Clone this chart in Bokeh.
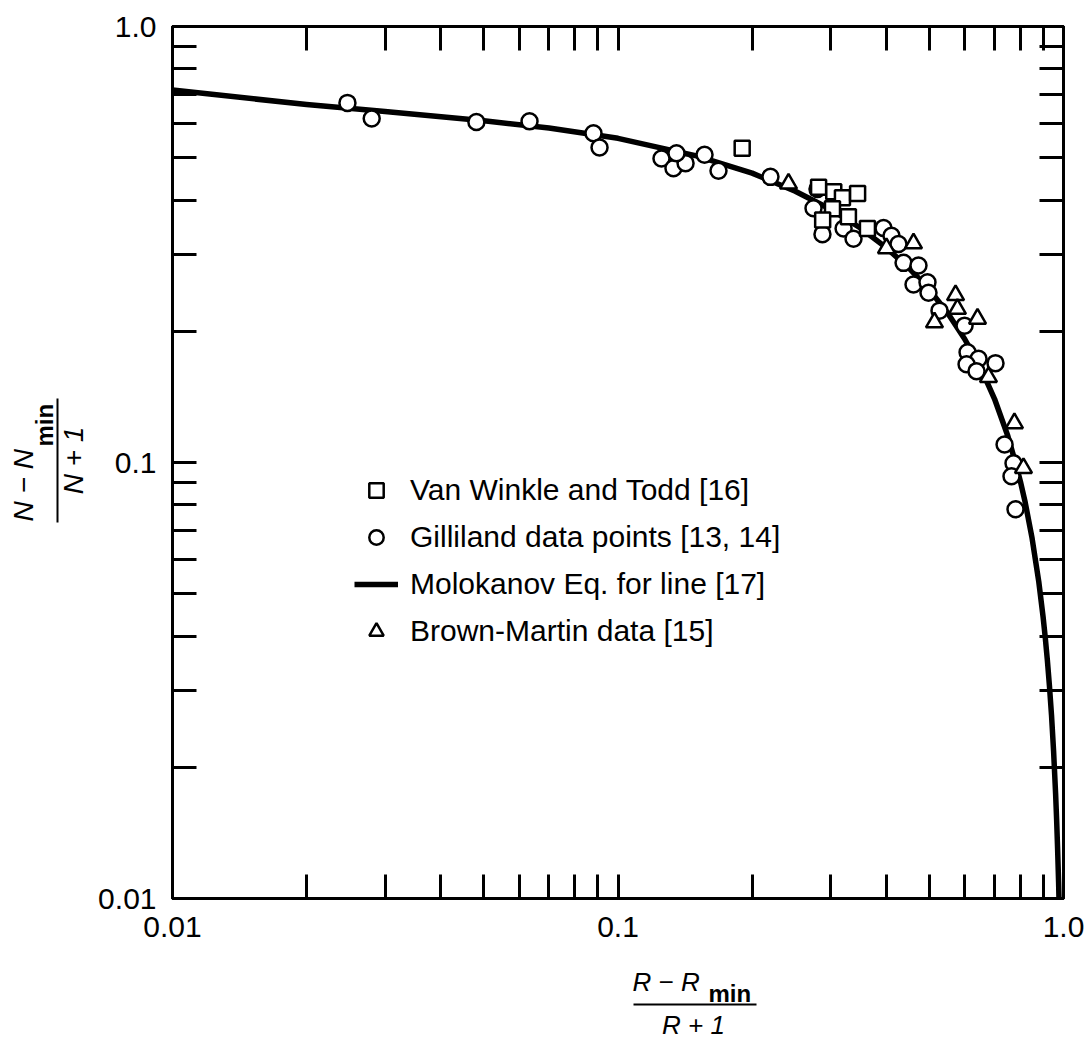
import math
from bokeh.plotting import figure
from bokeh.layouts import row, column
from bokeh.models import (Range1d, LogAxis, FixedTicker, CustomJSTickFormatter,
                          Legend, LegendItem, Label, Arrow)
from bokeh.embed import file_html
from bokeh.resources import INLINE

# ---------------- data ----------------
# Van Winkle and Todd [16]  (squares)
vw_x = [0.190, 0.282, 0.305, 0.319, 0.345, 0.303, 0.288, 0.329, 0.363]
vw_y = [0.526, 0.428, 0.418, 0.405, 0.414, 0.382, 0.360, 0.366, 0.344]

# Gilliland data points [13, 14]  (circles)
gl_x = [0.0247, 0.0280, 0.0481, 0.0633, 0.0881, 0.0909, 0.1252, 0.1332, 0.1418,
        0.1353, 0.1564, 0.1681, 0.2199, 0.2804, 0.2747, 0.2877, 0.3209, 0.3378,
        0.3945, 0.4111, 0.4262, 0.4375, 0.4726, 0.4606, 0.4951, 0.4977, 0.5268,
        0.5997, 0.6090, 0.6446, 0.7037, 0.6059, 0.6379, 0.7374, 0.7723, 0.7643,
        0.7803]
gl_y = [0.668, 0.615, 0.604, 0.606, 0.569, 0.528, 0.498, 0.473, 0.486,
        0.512, 0.508, 0.467, 0.452, 0.424, 0.383, 0.334, 0.344, 0.326,
        0.345, 0.331, 0.317, 0.287, 0.283, 0.256, 0.259, 0.245, 0.223,
        0.206, 0.179, 0.173, 0.169, 0.168, 0.162, 0.110, 0.0996, 0.0930,
        0.0781]

# Brown-Martin data [15]  (triangles)
bm_x = [0.2414, 0.4005, 0.4606, 0.5724, 0.5780, 0.5133, 0.6412, 0.6785, 0.7760, 0.8131]
bm_y = [0.436, 0.310, 0.318, 0.242, 0.225, 0.2096, 0.2136, 0.157, 0.123, 0.0971]

# Molokanov Eq. for line [17]
mol_x = [0.01, 0.02, 0.03, 0.05, 0.07, 0.10, 0.15, 0.20, 0.25, 0.30, 0.35, 0.40,
         0.45, 0.50, 0.55, 0.60, 0.65, 0.70, 0.75, 0.78, 0.80, 0.82, 0.85, 0.88,
         0.90, 0.91, 0.92, 0.93, 0.94, 0.95, 0.96, 0.965, 0.97, 0.975, 0.98, 0.985]
mol_y = [0.715, 0.662, 0.638, 0.608, 0.585, 0.554, 0.505, 0.461, 0.419, 0.381,
         0.345, 0.311, 0.279, 0.249, 0.220, 0.192, 0.166, 0.140, 0.115, 0.100,
         0.0906, 0.0812, 0.0671, 0.0533, 0.0442, 0.0397, 0.0352, 0.0307, 0.0263,
         0.0218, 0.0174, 0.0152, 0.0130, 0.0109, 0.0087, 0.0065]

legend_labels = ["Van Winkle and Todd [16]", "Gilliland data points [13, 14]",
                 "Molokanov Eq. for line [17]", "Brown-Martin data [15]"]

tick_vals = [0.01, 0.1, 1.0]
tick_labels = ["0.01", "0.1", "1.0"]
minor_vals = [0.02, 0.03, 0.04, 0.05, 0.06, 0.07, 0.08, 0.09,
              0.2, 0.3, 0.4, 0.5, 0.6, 0.7, 0.8, 0.9]

# ---------------- layout sizes ----------------
TOTAL_W, TOTAL_H = 1088, 1040
YT_W = 90                      # strip holding the y title
MAIN_W = TOTAL_W - YT_W        # main figure width
MAIN_H = 958                   # main figure height
XT_H = TOTAL_H - MAIN_H        # strip holding the x title
FRAME_L, FRAME_R, FRAME_T, FRAME_B = 172, 1063, 26, 898   # frame in page pixels
FONT = "Liberation Sans"

p = figure(width=MAIN_W, height=MAIN_H, x_axis_type="log", y_axis_type="log",
           x_range=Range1d(0.01, 1.0), y_range=Range1d(0.01, 1.0),
           output_backend="svg", toolbar_location=None,
           min_border_left=FRAME_L - YT_W, min_border_right=TOTAL_W - FRAME_R,
           min_border_top=FRAME_T, min_border_bottom=MAIN_H - FRAME_B)
p.xgrid.visible = False
p.ygrid.visible = False
p.outline_line_color = "black"
p.outline_line_width = 3
p.background_fill_color = "white"
p.border_fill_color = "white"

fmt = CustomJSTickFormatter(args=dict(vals=tick_vals, labs=tick_labels), code="""
let best = 0;
for (let i = 0; i < vals.length; i++) {
  if (Math.abs(Math.log10(tick) - Math.log10(vals[i])) <
      Math.abs(Math.log10(tick) - Math.log10(vals[best]))) best = i;
}
return labs[best];
""")
blank = CustomJSTickFormatter(code="return '';")


def style_axis(ax, labelled, standoff):
    ax.ticker = FixedTicker(ticks=tick_vals, minor_ticks=minor_vals)
    ax.formatter = fmt if labelled else blank
    ax.axis_line_width = 3
    ax.axis_line_color = "black"
    ax.major_tick_in = 24
    ax.major_tick_out = 0
    ax.minor_tick_in = 24
    ax.minor_tick_out = 0
    ax.major_tick_line_width = 3
    ax.minor_tick_line_width = 3
    ax.major_label_text_font = FONT
    ax.major_label_text_font_size = "30px" if labelled else "1px"
    ax.major_label_text_color = "black"
    ax.major_label_standoff = standoff


style_axis(p.below[0], True, 18)
style_axis(p.left[0], True, 16)
top_ax = LogAxis()
right_ax = LogAxis()
style_axis(top_ax, False, 0)
style_axis(right_ax, False, 0)
p.add_layout(top_ax, "above")
p.add_layout(right_ax, "right")

# ---------------- marks ----------------
r_line = p.line(mol_x, mol_y, line_color="black", line_width=5.5, line_join="round")
r_circ = p.scatter(gl_x, gl_y, marker="circle", size=16, line_color="black",
                   line_width=2.5, fill_color="white")
r_sq = p.scatter(vw_x, vw_y, marker="square", size=15, line_color="black",
                 line_width=2.5, fill_color="white")
r_tri = p.scatter(bm_x, bm_y, marker="triangle", size=17, line_color="black",
                  line_width=2.5, fill_color="white")

legend = Legend(items=[LegendItem(label=legend_labels[0], renderers=[r_sq]),
                       LegendItem(label=legend_labels[1], renderers=[r_circ]),
                       LegendItem(label=legend_labels[2], renderers=[r_line]),
                       LegendItem(label=legend_labels[3], renderers=[r_tri])],
                location=(182, 249), orientation="vertical", padding=0, margin=0,
                spacing=11, glyph_width=44, glyph_height=36, label_height=36,
                label_standoff=12, label_text_font=FONT, label_text_font_size="30px",
                label_text_color="black", background_fill_alpha=0,
                border_line_color=None)
p.add_layout(legend, "center")


# ---------------- title strips ----------------
def strip(w, h):
    f = figure(width=w, height=h, x_axis_type=None, y_axis_type=None,
               x_range=Range1d(0, 1), y_range=Range1d(0, 1),
               output_backend="svg", toolbar_location=None,
               min_border=0, min_border_left=0, min_border_right=0,
               min_border_top=0, min_border_bottom=0)
    f.outline_line_color = None
    f.background_fill_color = "white"
    f.border_fill_color = "white"
    return f


def lab(f, ox, obottom, text, ix, iy, size, style="normal", align="left", angle=0.0):
    # (ix, iy): page pixel of the text's start (or centre) along the reading
    # direction, and of the middle of its line box across it
    f.add_layout(Label(x=ix - ox, y=obottom - iy, x_units="screen", y_units="screen",
                       text=text, angle=angle, text_font=FONT, text_font_size=size,
                       text_font_style=style, text_align=align,
                       text_baseline="middle", text_color="black"))


def bar(f, ox, obottom, ix0, iy0, ix1, iy1):
    f.add_layout(Arrow(end=None, start=None, x_start=ix0 - ox, y_start=obottom - iy0,
                       x_end=ix1 - ox, y_end=obottom - iy1, start_units="screen",
                       end_units="screen", line_width=2, line_color="black"))


V = math.pi / 2
# y title: (N - N_min) / (N + 1), rotated; strip spans x 0..90, y 0..1040
yt = strip(YT_W, TOTAL_H)
lab(yt, 0, TOTAL_H, "N − N", 23, 521, "28px", "italic", "left", V)
lab(yt, 0, TOTAL_H, "min", 44, 446, "24px", "bold", "left", V)
bar(yt, 0, TOTAL_H, 57, 522, 57, 398)
lab(yt, 0, TOTAL_H, "N + 1", 73, 460, "28px", "italic", "center", V)

# x title: (R - R_min) / (R + 1); strip spans x 90..1088, y 958..1040
xt = strip(MAIN_W, XT_H)
lab(xt, YT_W, TOTAL_H, "R − R", 550, 981, "26px", "italic")
lab(xt, YT_W, TOTAL_H, "min", 626, 993, "24px", "bold")
bar(xt, YT_W, TOTAL_H, 551, 1004, 674, 1004)
lab(xt, YT_W, TOTAL_H, "R + 1", 611, 1024, "26px", "italic", "center")

page = row(yt, column(p, xt, spacing=0), spacing=0)
open("out.html", "w").write(file_html(page, INLINE))
